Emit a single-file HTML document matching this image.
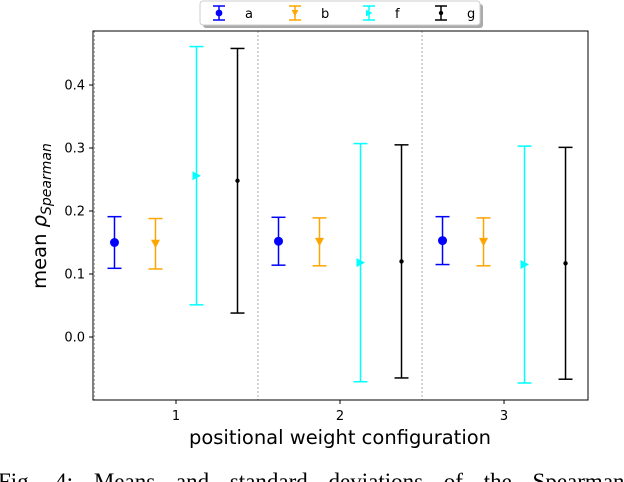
<!DOCTYPE html>
<html><head><meta charset="utf-8"><style>
html,body{margin:0;padding:0;background:#fff;}
body{width:624px;height:482px;overflow:hidden;position:relative;}
svg{position:absolute;left:0;top:0;}
</style></head><body>
<svg id="chart" width="624" height="482" font-family="'DejaVu Sans','Liberation Sans',sans-serif">
</svg>
<script>
const categories = [1, 2, 3];
const seriesNames = ['a', 'b', 'f', 'g'];
const seriesColors = ['#0000ff', '#ffa500', '#00ffff', '#000000'];
const seriesOffsets = [-0.375, -0.125, 0.125, 0.375];
const meanA = [0.150, 0.152, 0.153];
const errA = [0.041, 0.038, 0.038];
const meanB = [0.148, 0.151, 0.151];
const errB = [0.040, 0.038, 0.038];
const meanF = [0.256, 0.118, 0.115];
const errF = [0.205, 0.189, 0.188];
const meanG = [0.248, 0.120, 0.117];
const errG = [0.210, 0.185, 0.184];
const yTicks = [0.0, 0.1, 0.2, 0.3, 0.4];
const yTickLabels = ['0.0', '0.1', '0.2', '0.3', '0.4'];
const separators = [1.5, 2.5];

const means = [meanA, meanB, meanF, meanG];
const errs = [errA, errB, errF, errG];
const L = 93, R = 588, T = 31, B = 400;
const xMin = 0.494, xMax = 3.512, yMin = -0.1, yMax = 0.4857;
const sx = v => L + (v - xMin) / (xMax - xMin) * (R - L);
const sy = v => B - (v - yMin) / (yMax - yMin) * (B - T);
const svg = document.getElementById('chart');
const NS = 'http://www.w3.org/2000/svg';
function mk(tag, attrs, parent) {
  const e = document.createElementNS(NS, tag);
  for (const k in attrs) e.setAttribute(k, attrs[k]);
  (parent || svg).appendChild(e);
  return e;
}
separators.forEach(s => {
  const l = mk('line', {x1: sx(s), x2: sx(s), y1: T, y2: B, stroke: '#999', 'stroke-width': 0.8, 'stroke-dasharray': '2,2'});
  
  
});
const ld = mk('line', {x1: L + 1.5, x2: L + 1.5, y1: T, y2: B, stroke: '#999', 'stroke-width': 0.8, 'stroke-dasharray': '2,2'});


const fr = mk('rect', {x: L, y: T, width: R - L, height: B - T, fill: 'none', stroke: '#000', 'stroke-width': 1});


yTicks.forEach((t, i) => {
  const y = sy(t);
  mk('line', {x1: L - 4, x2: L, y1: y, y2: y, stroke: '#000'});
  const tx = mk('text', {x: L - 8, y: y + 4.5, 'font-size': 13, 'text-anchor': 'end', fill: '#000'});
  tx.textContent = yTickLabels[i];
  
  
});
categories.forEach(c => {
  const x = sx(c);
  mk('line', {x1: x, x2: x, y1: B, y2: B + 4, stroke: '#000'});
  const tx = mk('text', {x: x, y: B + 20, 'font-size': 13, 'text-anchor': 'middle', fill: '#000'});
  tx.textContent = String(c);
  
  
});
function marker(i, x, y, g, small) {
  const c = seriesColors[i];
  const s = small ? 0.75 : 1;
  if (i === 0) mk('circle', {cx: x, cy: y, r: 4.5 * s, fill: c}, g);
  else if (i === 1) mk('polygon', {points: `${x - 4.5*s},${y - 4*s} ${x + 4.5*s},${y - 4*s} ${x},${y + 4.5*s}`, fill: c}, g);
  else if (i === 2) mk('polygon', {points: `${x - 4*s},${y - 4.5*s} ${x - 4*s},${y + 4.5*s} ${x + 4.5*s},${y}`, fill: c}, g);
  else mk('circle', {cx: x, cy: y, r: 2.2, fill: c}, g);
}
function errbar(i, x, m, e, g, cap) {
  const c = seriesColors[i];
  const yt = sy(m + e), yb = sy(m - e);
  mk('line', {x1: x, x2: x, y1: yt, y2: yb, stroke: c, 'stroke-width': 1.5}, g);
  mk('line', {x1: x - cap, x2: x + cap, y1: yt, y2: yt, stroke: c, 'stroke-width': 1.5}, g);
  mk('line', {x1: x - cap, x2: x + cap, y1: yb, y2: yb, stroke: c, 'stroke-width': 1.5}, g);
}
seriesNames.forEach((n, i) => {
  const g = mk('g', {});
  
  
  categories.forEach((c, j) => {
    const x = sx(c + seriesOffsets[i]);
    errbar(i, x, means[i][j], errs[i][j], g, 7);
    marker(i, x, sy(means[i][j]), g, false);
  });
});
const xt = mk('text', {x: 340, y: 444, 'font-size': 19.5, 'text-anchor': 'middle', fill: '#000'});
xt.textContent = 'positional weight configuration';


const yt = mk('text', {transform: 'translate(46,216) rotate(-90)', 'font-size': 19.5, 'text-anchor': 'middle', fill: '#000'});
yt.innerHTML = 'mean <tspan font-style="italic">ρ</tspan><tspan font-style="italic" font-size="14" dy="5">Spearman</tspan>';


const lg = mk('g', {});


mk('rect', {x: 203, y: 4, width: 280, height: 24, rx: 3, fill: '#aaa'}, lg);
mk('rect', {x: 200, y: 1, width: 280, height: 24, rx: 3, fill: '#fff', stroke: '#ccc'}, lg);
const legX = [219, 295, 369, 441];
seriesNames.forEach((n, i) => {
  const e = mk('g', {}, lg);
  
  
  const x = legX[i];
  mk('line', {x1: x, x2: x, y1: 6, y2: 20, stroke: seriesColors[i], 'stroke-width': 1.5}, e);
  mk('line', {x1: x - 6, x2: x + 6, y1: 6, y2: 6, stroke: seriesColors[i], 'stroke-width': 1.5}, e);
  mk('line', {x1: x - 6, x2: x + 6, y1: 20, y2: 20, stroke: seriesColors[i], 'stroke-width': 1.5}, e);
  marker(i, x, 13, e, true);
  const t = mk('text', {x: x + 26, y: 18, 'font-size': 13, fill: '#000'}, e);
  t.textContent = n;
});
const cap = mk('text', {x: -2, y: 489, 'font-size': 23, fill: '#000', 'font-family': "'Liberation Serif',serif", 'word-spacing': '15'});
cap.textContent = 'Fig. 4: Means and standard deviations of the Spearman';


</script>
</body></html>
